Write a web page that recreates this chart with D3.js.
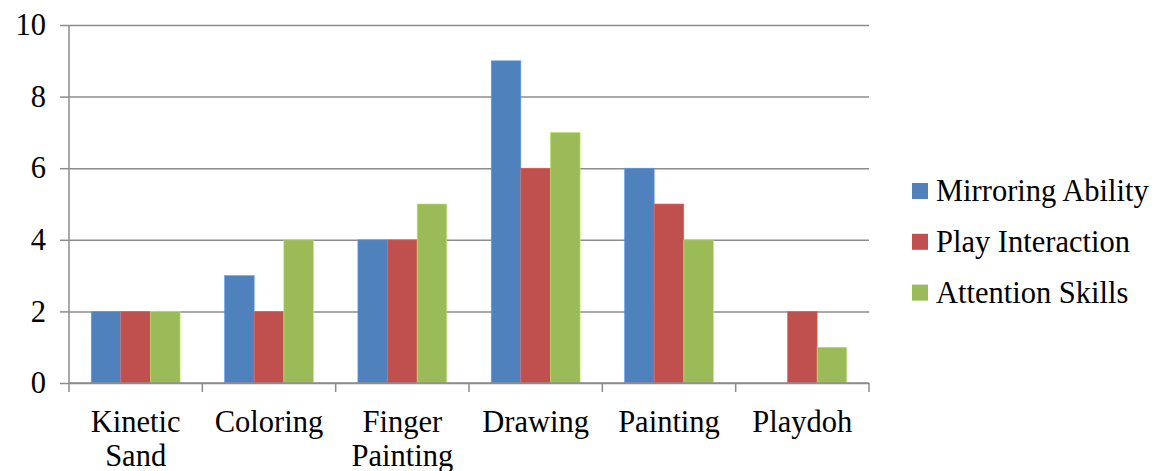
<!DOCTYPE html>
<html>
<head>
<meta charset="utf-8">
<script src="https://cdn.jsdelivr.net/npm/d3@7"></script>
</head>
<body style="margin:0">
<svg id="chart" width="1168" height="471"></svg>
<script>
const categories = ['Kinetic Sand', 'Coloring', 'Finger Painting', 'Drawing', 'Painting', 'Playdoh'];
const seriesNames = ['Mirroring Ability', 'Play Interaction', 'Attention Skills'];
const mirroring = [2, 3, 4, 9, 6, 0];
const playInteraction = [2, 2, 4, 6, 5, 2];
const attention = [2, 4, 5, 7, 4, 1];
const yTicks = [0, 2, 4, 6, 8, 10];

const colors = ['#4f81bd', '#c0504d', '#9bbb59'];
const values = [mirroring, playInteraction, attention];

const svg = d3.select('#chart');
const margin = { top: 25, left: 69, right: 299, bottom: 88 };
const width = 1168, height = 471;
const fontSize = 30.5;
const fontFamily = '"Liberation Serif", "Times New Roman", serif';
const gridColor = '#8c8c8c';

const x0 = d3.scaleBand(categories, [margin.left, width - margin.right]).padding(0);
const x1 = d3.scaleBand(seriesNames, [0, x0.bandwidth()]).paddingInner(0).paddingOuter(0.75);
const y = d3.scaleLinear([0, 10], [height - margin.bottom, margin.top]);

const textStyle = t => t
  .style('font-family', fontFamily, 'important')
  .style('font-size', fontSize + 'px', 'important')
  .attr('fill', '#000');

// 网格线 + y 刻度
svg.append('g')
  .attr('transform', `translate(${margin.left},0)`)
  .call(d3.axisLeft(y).tickValues(yTicks).tickSize(9).tickPadding(14))
  .call(g => g.select('.domain').remove())
  .call(g => g.selectAll('.tick line').attr('stroke', gridColor).attr('stroke-width', 1.5))
  .call(g => g.selectAll('.tick text').call(textStyle))
  .call(g => g.selectAll('.tick').append('line')
    .attr('x2', width - margin.right - margin.left)
    .attr('stroke', gridColor).attr('stroke-width', 1.5));

// y 轴线
svg.append('line')
  .attr('x1', margin.left).attr('x2', margin.left)
  .attr('y1', y(10)).attr('y2', y(0))
  .attr('stroke', gridColor).attr('stroke-width', 1.5);

// bars
const groups = svg.append('g').selectAll('g')
  .data(categories)
  .join('g')
  .attr('transform', d => `translate(${x0(d)},0)`);

groups.selectAll('rect')
  .data((c, i) => seriesNames.map((s, k) => ({ s, v: values[k][i], color: colors[k] })))
  .join('rect')
  .attr('x', d => x1(d.s))
  .attr('width', x1.bandwidth())
  .attr('y', d => y(d.v))
  .attr('height', d => y(0) - y(d.v))
  .attr('fill', d => d.color)
  .attr('stroke', d => d3.color(d.color).brighter(0.6))
  .attr('stroke-width', d => d.v > 0 ? 0.6 : 0);

// x 轴
const xAxis = svg.append('g').attr('transform', `translate(0,${y(0)})`);
xAxis.append('line')
  .attr('x1', margin.left).attr('x2', width - margin.right)
  .attr('stroke', gridColor).attr('stroke-width', 1.5);
const tickPos = categories.map(c => x0(c)).concat([x0.range()[1]]);
xAxis.selectAll('.xtick')
  .data(tickPos)
  .join('line')
  .attr('class', 'xtick')
  .attr('x1', d => d).attr('x2', d => d)
  .attr('y1', 0).attr('y2', 9)
  .attr('stroke', gridColor).attr('stroke-width', 1.5);

xAxis.selectAll('.xlabel')
  .data(categories)
  .join('text')
  .attr('class', 'xlabel')
  .attr('text-anchor', 'middle')
  .call(textStyle)
  .attr('x', d => x0(d) + x0.bandwidth() / 2)
  .attr('y', 49)
  .selectAll('tspan')
  .data(d => d.split(' ').map((w, i) => ({ w, i })))
  .join('tspan')
  .attr('x', function () { return d3.select(this.parentNode).attr('x'); })
  .attr('dy', d => d.i === 0 ? 0 : 34)
  .text(d => d.w);

// legend
const legendX = 912, legendY = 191, legendStep = 50.8;
svg.selectAll('.legend-swatch')
  .data(seriesNames)
  .join('rect')
  .attr('class', 'legend-swatch')
  .attr('x', legendX).attr('y', (d, i) => legendY + i * legendStep - 8)
  .attr('width', 16).attr('height', 16)
  .attr('fill', (d, i) => colors[i]);
svg.selectAll('.legend-label')
  .data(seriesNames)
  .join('text')
  .attr('class', 'legend-label')
  .attr('x', legendX + 24).attr('y', (d, i) => legendY + i * legendStep + 10)
  .call(textStyle)
  .text(d => d);
</script>
</body>
</html>
